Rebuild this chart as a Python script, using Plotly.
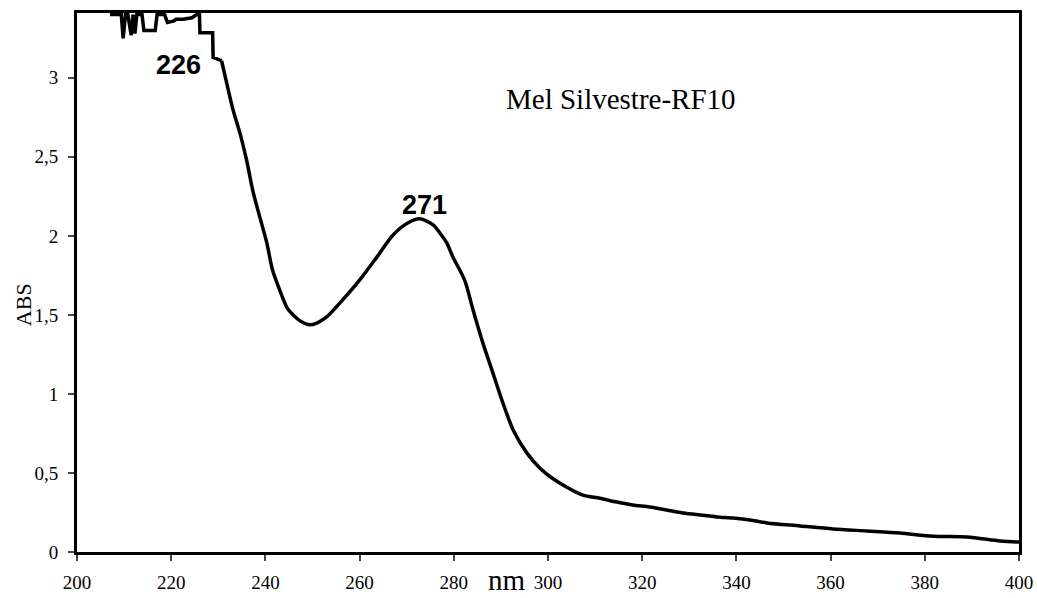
import plotly.graph_objects as go

# Noisy / stepped region near the detector limit (nm, ABS)
wl_noise = [207.0, 209.4, 209.8, 210.3, 210.8, 211.5, 211.9, 212.3, 212.7, 213.1, 213.8, 214.2,
            215.6, 216.6, 217.0, 218.6, 219.2, 220.6, 221.0, 222.5, 224.4, 225.4, 226.0,
            226.1, 228.8, 228.9, 229.7, 230.7]
abs_noise = [3.40, 3.40, 3.25, 3.40, 3.40, 3.27, 3.40, 3.28, 3.40, 3.40, 3.40, 3.30,
             3.30, 3.30, 3.40, 3.40, 3.35, 3.36, 3.37, 3.37, 3.38, 3.40, 3.40,
             3.285, 3.285, 3.13, 3.12, 3.108]

# Smooth part of the spectrum (nm, ABS)
wl_main = [230.7, 231.3, 233.1, 234.6, 236.0, 237.3, 238.8, 240.3, 241.5, 243.0, 244.7, 245.9,
           247.5, 249.4, 251.0, 253.0, 256.4, 260.0, 263.7, 267.1, 270.7, 272.8, 275.6, 277.0,
           278.5, 279.8, 282.3, 284.1, 286.2, 288.3, 290.2, 292.6, 295.5, 298.3, 301.0, 304.0,
           307.4, 311.0, 314.6, 318.0, 321.6, 325.2, 328.7, 332.3, 335.9, 339.3, 342.9, 346.5,
           353.5, 360.5, 367.7, 374.7, 381.8, 389.0, 396.0, 400.0]
abs_main = [3.108, 3.03, 2.80, 2.65, 2.48, 2.29, 2.12, 1.956, 1.785, 1.66, 1.54, 1.50,
            1.46, 1.437, 1.45, 1.487, 1.595, 1.72, 1.867, 2.006, 2.089, 2.108, 2.07, 2.02,
            1.956, 1.867, 1.72, 1.53, 1.32, 1.133, 0.962, 0.772, 0.627, 0.53, 0.465, 0.41,
            0.36, 0.34, 0.316, 0.297, 0.285, 0.266, 0.247, 0.234, 0.222, 0.215, 0.203, 0.184,
            0.165, 0.146, 0.133, 0.12, 0.10, 0.095, 0.07, 0.063]

x_ticks = [200, 220, 240, 260, 280, 300, 320, 340, 360, 380, 400]
y_ticks = [0, 0.5, 1, 1.5, 2, 2.5, 3]
y_ticktext = ["0", "0,5", "1", "1,5", "2", "2,5", "3"]

peak_labels = ["226", "271"]
peak_x = [221.45, 273.8]
peak_y = [3.079, 2.195]
title_text = "Mel Silvestre-RF10"
x_title = "nm"
y_title = "ABS"

serif = "Times New Roman, Liberation Serif, serif"
sans = "Arial, Liberation Sans, sans-serif"

fig = go.Figure()
fig.add_trace(go.Scatter(x=wl_noise, y=abs_noise, mode="lines",
                         line=dict(color="black", width=3.5), showlegend=False))
fig.add_trace(go.Scatter(x=wl_main, y=abs_main, mode="lines",
                         line=dict(color="black", width=3.5, shape="spline", smoothing=0.8),
                         showlegend=False))

for t, xx, yy in zip(peak_labels, peak_x, peak_y):
    fig.add_annotation(x=xx, y=yy, text=f"<b>{t}</b>", showarrow=False,
                       font=dict(family=sans, size=27, color="black"))
fig.add_annotation(x=315.6, y=2.867, text=title_text, showarrow=False,
                   font=dict(family=serif, size=29, color="black"))
fig.add_annotation(x=0.457, y=-0.0853, xref="paper", yref="paper", text=x_title,
                   showarrow=False, xanchor="center", yanchor="bottom",
                   font=dict(family=serif, size=29, color="black"))
fig.add_annotation(x=-0.0573, y=0.458, xref="paper", yref="paper", text=y_title,
                   showarrow=False, xanchor="center", yanchor="middle", textangle=-90,
                   font=dict(family=serif, size=22, color="black"))

fig.update_layout(
    width=1037, height=598,
    margin=dict(l=77, r=18, t=13, b=46, autoexpand=False),
    paper_bgcolor="white", plot_bgcolor="white",
    font=dict(family=serif, size=19, color="black"),
    xaxis=dict(range=[200, 400], tickvals=x_ticks, ticks="outside", ticklen=6, tickwidth=2,
               showline=True, linewidth=3, linecolor="black", mirror=True, showgrid=False,
               zeroline=False, tickfont=dict(family=serif, size=19), ticklabelstandoff=5,
               automargin=False),
    yaxis=dict(range=[0, 3.41], tickvals=y_ticks, ticktext=y_ticktext, ticks="outside",
               ticklen=6, tickwidth=2, showline=True, linewidth=3, linecolor="black",
               mirror=True, showgrid=False, zeroline=False, automargin=False,
               tickfont=dict(family=serif, size=19), ticklabelstandoff=6),
)

fig.write_html("out.html")
